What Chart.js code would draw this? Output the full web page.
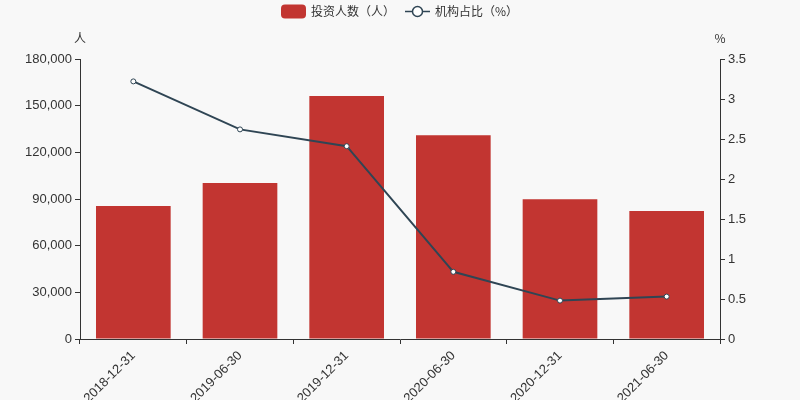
<!DOCTYPE html>
<html>
<head>
<meta charset="utf-8">
<script src="https://cdn.jsdelivr.net/npm/chart.js@4/dist/chart.umd.min.js"></script>
<style>
html,body{margin:0;padding:0;background:#f8f8f8;}
#wrap{width:800px;height:400px;position:relative;}
</style>
</head>
<body>
<div id="wrap"><canvas id="c" width="800" height="400"></canvas></div>
<script>
const categories = ['2018-12-31','2019-06-30','2019-12-31','2020-06-30','2020-12-31','2021-06-30'];
const investors = [85500, 100300, 156200, 131000, 89800, 82300];
const instRatio = [3.22, 2.62, 2.41, 0.84, 0.48, 0.53];
const leftTicks = [0, 30000, 60000, 90000, 120000, 150000, 180000];
const rightTicks = [0, 0.5, 1, 1.5, 2, 2.5, 3, 3.5];
const seriesNames = ['投资人数（人）', '机构占比（%）'];
const axisNames = ['人', '%'];

const FONT = "'Liberation Sans', 'Noto Sans CJK SC', sans-serif";
const CJK = "'Noto Sans CJK SC', sans-serif";
const TXT = '#333';
const RED = '#c23531';
const NAVY = '#2f4554';

// draw a CJK label with each glyph centred in its own advance box
function drawCentredGlyphs(ctx, text, x, y) {
  ctx.textAlign = 'center';
  for (const ch of text) {
    const w = ctx.measureText(ch).width;
    ctx.fillText(ch, x + w / 2, y);
    x += w;
  }
  ctx.textAlign = 'left';
}

const decor = {
  id: 'decor',
  beforeDraw(chart) {
    const ctx = chart.ctx;
    ctx.save();
    ctx.fillStyle = '#f8f8f8';
    ctx.fillRect(0, 0, chart.width, chart.height);
    ctx.restore();
  },
  afterDraw(chart) {
    const ctx = chart.ctx;
    const ca = chart.chartArea;
    ctx.save();
    ctx.font = '12px ' + CJK;
    ctx.textBaseline = 'middle';
    const w1 = ctx.measureText(seriesNames[0]).width;
    const w2 = ctx.measureText(seriesNames[1]).width;
    const total = 25 + 5 + w1 + 10 + 25 + 5 + w2;
    let x = Math.round(400 - total / 2);
    const y = 11.5;
    // bar legend
    const r = 4;
    const bx = x, bw = 25, bh = 14;
    ctx.fillStyle = RED;
    ctx.beginPath();
    ctx.moveTo(bx + r, y - bh/2);
    ctx.lineTo(bx + bw - r, y - bh/2);
    ctx.quadraticCurveTo(bx + bw, y - bh/2, bx + bw, y - bh/2 + r);
    ctx.lineTo(bx + bw, y + bh/2 - r);
    ctx.quadraticCurveTo(bx + bw, y + bh/2, bx + bw - r, y + bh/2);
    ctx.lineTo(bx + r, y + bh/2);
    ctx.quadraticCurveTo(bx, y + bh/2, bx, y + bh/2 - r);
    ctx.lineTo(bx, y - bh/2 + r);
    ctx.quadraticCurveTo(bx, y - bh/2, bx + r, y - bh/2);
    ctx.fill();
    ctx.fillStyle = TXT;
    x += 30;
    drawCentredGlyphs(ctx, seriesNames[0], x, y);
    x += w1 + 10;
    // line legend
    const lx = x;
    ctx.strokeStyle = NAVY;
    ctx.lineWidth = 1.5;
    ctx.beginPath();
    ctx.moveTo(lx, y); ctx.lineTo(lx + 25, y);
    ctx.stroke();
    ctx.beginPath();
    ctx.arc(lx + 12.5, y, 5, 0, Math.PI * 2);
    ctx.fillStyle = '#fff';
    ctx.fill();
    ctx.stroke();
    ctx.fillStyle = TXT;
    drawCentredGlyphs(ctx, seriesNames[1], lx + 30, y);
    // axis names
    ctx.textAlign = 'center';
    ctx.fillText(axisNames[0], ca.left, 38);
    ctx.fillText(axisNames[1], ca.right, 38);
    ctx.restore();
  }
};

new Chart(document.getElementById('c'), {
  data: {
    labels: categories,
    datasets: [
      {
        type: 'line',
        label: seriesNames[1],
        data: instRatio,
        yAxisID: 'y1',
        borderColor: NAVY,
        borderWidth: 2,
        backgroundColor: '#fff',
        pointBackgroundColor: '#fff',
        pointBorderColor: NAVY,
        pointBorderWidth: 1,
        pointRadius: 2.5,
        tension: 0,
        order: 0
      },
      {
        type: 'bar',
        label: seriesNames[0],
        data: investors,
        yAxisID: 'y',
        backgroundColor: RED,
        borderWidth: 0,
        barPercentage: 0.7,
        categoryPercentage: 1.0,
        order: 1
      }
    ]
  },
  options: {
    responsive: false,
    animation: false,
    devicePixelRatio: 1,
    layout: { padding: { top: 59, bottom: 0, left: 0, right: 0 } },
    plugins: { legend: { display: false }, tooltip: { enabled: false } },
    scales: {
      x: {
        offset: true,
        grid: { display: true, drawOnChartArea: false, offset: true, color: TXT, tickLength: 5, tickWidth: 1 },
        border: { display: true, color: TXT, width: 1 },
        ticks: { color: TXT, font: { size: 13, family: FONT }, maxRotation: 45, minRotation: 45, autoSkip: false, padding: 4 },
        afterFit(s) { s.height = 61; }
      },
      y: {
        position: 'left',
        min: 0, max: 180000,
        afterBuildTicks(s) { s.ticks = leftTicks.map(v => ({ value: v })); },
        grid: { display: true, drawOnChartArea: false, color: TXT, tickLength: 5 },
        border: { display: true, color: TXT, width: 1 },
        ticks: { color: TXT, font: { size: 13, family: FONT }, padding: 3,
          callback: v => Number(v).toLocaleString('en-US') },
        afterFit(s) { s.width = 80; }
      },
      y1: {
        position: 'right',
        min: 0, max: 3.5,
        afterBuildTicks(s) { s.ticks = rightTicks.map(v => ({ value: v })); },
        grid: { display: true, drawOnChartArea: false, color: TXT, tickLength: 5 },
        border: { display: true, color: TXT, width: 1 },
        ticks: { color: TXT, font: { size: 13, family: FONT }, padding: 3,
          callback: v => String(v) },
        afterFit(s) { s.width = 80; }
      }
    }
  },
  plugins: [decor]
});
</script>
</body>
</html>
